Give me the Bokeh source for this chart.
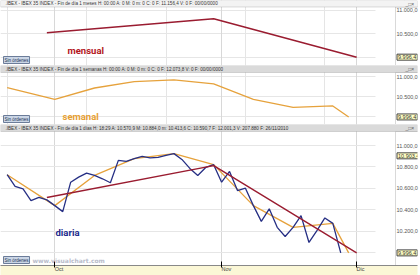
from bokeh.plotting import figure
from bokeh.layouts import column
from bokeh.models import Range1d, FixedTicker, Label, Grid, BoxAnnotation
from bokeh.embed import file_html
from bokeh.resources import INLINE

# ---- data (bar index on the daily time axis, IBEX 35 closes) ----
daily_x = list(range(43))
daily_close = [10727, 10617, 10595, 10485, 10516, 10492, 10438, 10382, 10657, 10704,
               10742, 10720, 10689, 10652, 10861, 10852, 10877, 10899, 10885, 10889,
               10908, 10924, 10870, 10786, 10720, 10795, 10821, 10657, 10758, 10579,
               10601, 10438, 10291, 10408, 10235, 10150, 10235, 10345, 10094, 10204,
               10323, 10272, 9996.4]
weekly_x = [0, 6, 11, 16, 21, 26, 31, 36, 41, 43]
weekly_close = [10727, 10438, 10720, 10877, 10924, 10821, 10438, 10235, 10272, 9996.4]
monthly_x = [5, 26, 44]
monthly_close = [10514.5, 10812.3, 9996.4]

month_ticks = [6, 27, 44]
month_labels = ["Oct", "Nov", "Dic"]

top_ticks = [10000, 10500, 11000]
top_labels = ["", "10.500,0", "11.000,0"]
bot_ticks = [10000, 10200, 10400, 10600, 10800, 11000]
bot_labels = ["", "10.200,0", "10.400,0", "10.600,0", "10.800,0", "11.000,0"]
last_price = 9996.4
last_label = "9.996,4"
mark_price = 10903.4
mark_label = "10.903,4"

hdr_month = ".IBEX - IBEX 35 INDEX - Fin de día 1 meses H: 00:00 A: 0 M: 0 m: 0 C: 0 F: 11.156,4 V: 0 F: 00/00/0000"
hdr_week = ".IBEX - IBEX 35 INDEX - Fin de día 1 semanas H: 00:00 A: 0 M: 0 m: 0 C: 0 F: 12.073,8 V: 0 F: 00/00/0000"
hdr_day = ".IBEX - IBEX 35 INDEX - Fin de día 1 días H: 18:29 A: 10.570,9 M: 10.884,0 m: 10.413,6 C: 10.590,7 F: 12.001,3 V: 207.880 F: 26/11/2010"

MAROON = "#9a1c30"
ORANGE = "#e6a23c"
NAVY = "#262f84"
LABEL_FONT = "Roboto"

# ---- layout constants (pixels) ----
W = 420
FW = 420            # frame width (axis labels are drawn inside the right box)
BAR0, BAR_W = 6.7, 8.0
BOX_L, BOX_R, GAP_L = 395, 418.5, 375

xr = Range1d(-BAR0 / BAR_W, (FW - BAR0) / BAR_W)


def yrange(fh, px_hi, px_lo, v_hi=11000, v_lo=10000):
    k = (px_lo - px_hi) / (v_hi - v_lo)
    return v_hi + px_hi / k, v_lo - (fh - px_lo) / k, k


def price_box(p, price, text):
    p.add_layout(Label(x=BOX_L + 1.5, y=price, x_units="screen", y_units="data", text=text,
                       text_font_size="5.5px", text_color="#333333", text_baseline="middle",
                       background_fill_color="#ffffc4", border_line_color="#444444",
                       padding=1))


def panel(fh, band_h, px_hi, px_lo, header, ticks, labels, band_color, with_xaxis=False):
    y1, y0, k = yrange(fh, px_hi, px_lo)
    band_bottom = y1 - band_h / k
    kw = dict(width=W, x_range=xr, y_range=Range1d(y0, y1),
              output_backend="svg", toolbar_location=None,
              x_axis_location="below" if with_xaxis else None,
              y_axis_location="right",
              min_border_left=0, min_border_right=0, min_border_top=0, min_border_bottom=0)
    if with_xaxis:
        kw["frame_height"] = fh
    else:
        kw["height"] = fh
    p = figure(**kw)
    p.border_fill_color = "white"
    p.background_fill_color = "white"
    p.outline_line_color = None

    ax = p.yaxis[0]
    ax.ticker = FixedTicker(ticks=ticks)
    ax.major_label_overrides = dict(zip(ticks, labels))
    ax.major_label_text_font_size = "5.5px"
    ax.major_label_text_color = "#555555"
    ax.major_label_standoff = -21
    ax.major_tick_out = 0
    ax.major_tick_in = 0
    ax.minor_tick_out = 0
    ax.minor_tick_in = 0
    ax.axis_line_color = None
    p.ygrid.grid_line_color = "#e6e6e6"

    if with_xaxis:
        xa = p.xaxis[0]
        xa.ticker = FixedTicker(ticks=month_ticks)
        xa.major_label_overrides = dict(zip(month_ticks, month_labels))
        xa.major_label_text_font_size = "5.5px"
        xa.major_label_text_color = "#444444"
        xa.major_label_orientation = -0.0001   # left-aligned labels, as in the reference
        xa.major_label_standoff = 1
        xa.major_tick_out = 2
        xa.major_tick_in = 4
        xa.minor_tick_out = 0
        xa.minor_tick_in = 0
        xa.axis_line_color = "#888888"
        xa.background_fill_color = "#fbf7d6"
        p.xgrid.grid_line_color = "#d8d8d8"
    else:
        p.add_layout(Grid(dimension=0, ticker=FixedTicker(ticks=month_ticks),
                          grid_line_color="#d8d8d8"), "center")

    # grid lines stop short of the price box
    p.add_layout(BoxAnnotation(left=GAP_L, right=BOX_L, left_units="screen", right_units="screen",
                               top=band_bottom, fill_color="white", fill_alpha=1,
                               line_color=None, level="underlay"))
    # price axis box
    p.add_layout(BoxAnnotation(left=BOX_L, right=BOX_R, left_units="screen", right_units="screen",
                               top=band_bottom, fill_color="white", fill_alpha=1,
                               line_color="#808080", line_width=1, level="underlay"))
    # header band
    p.add_layout(BoxAnnotation(bottom=band_bottom, fill_color=band_color, fill_alpha=1,
                               line_color="#8c8c8c", line_width=1, level="underlay"))
    p.add_layout(Label(x=5, y=fh - band_h / 2, x_units="screen", y_units="screen", text=header,
                       text_font_size="4.6px", text_color="#333333", text_baseline="middle"))
    p.add_layout(Label(x=405, y=fh - band_h / 2, x_units="screen", y_units="screen", text="_□×",
                       text_font_size="5px", text_color="#555555", text_baseline="middle"))
    # "Sin órdenes" button
    p.add_layout(Label(x=3, y=2, x_units="screen", y_units="screen", text="Sin órdenes",
                       text_font_size="4.5px", text_color="#223355",
                       background_fill_color="#cbd6e6", border_line_color="#6b7c99",
                       padding=1))
    price_box(p, last_price, last_label)
    return p


p1 = panel(65, 6.5, 9.5, 56.5, hdr_month, top_ticks, top_labels, "#f3f3f3")
p1.line(monthly_x, monthly_close, line_color=MAROON, line_width=1.6)
p1.add_layout(Label(x=67, y=10, x_units="screen", y_units="screen", text="mensual",
                    text_font=LABEL_FONT, text_font_style="bold",
                    text_font_size="9.5px", text_color="#b3161c"))

p2 = panel(59, 7, 11.3, 51.3, hdr_week, top_ticks, top_labels, "#dadada")
p2.line(weekly_x, weekly_close, line_color=ORANGE, line_width=1.3)
p2.add_layout(Label(x=62, y=3, x_units="screen", y_units="screen", text="semanal",
                    text_font=LABEL_FONT, text_font_style="bold",
                    text_font_size="9.5px", text_color="#e8a032"))

p3 = panel(141, 7, 21, 128, hdr_day, bot_ticks, bot_labels, "#dadada", with_xaxis=True)
p3.line(weekly_x, weekly_close, line_color=ORANGE, line_width=1.3)
p3.line(daily_x, daily_close, line_color=NAVY, line_width=1.3)
p3.line(monthly_x, monthly_close, line_color=MAROON, line_width=1.4)
p3.add_layout(Label(x=55, y=28, x_units="screen", y_units="screen", text="diaria",
                    text_font=LABEL_FONT, text_font_style="bold",
                    text_font_size="9.5px", text_color="#1c2a8c"))
p3.add_layout(Label(x=32, y=2, x_units="screen", y_units="screen", text="www.visualchart.com",
                    text_font="DejaVu Sans", text_font_style="bold",
                    text_font_size="6px", text_color="#b8bccb"))
price_box(p3, mark_price, mark_label)

layout = column(p1, p2, p3)
open("out.html", "w").write(file_html(layout, INLINE))
